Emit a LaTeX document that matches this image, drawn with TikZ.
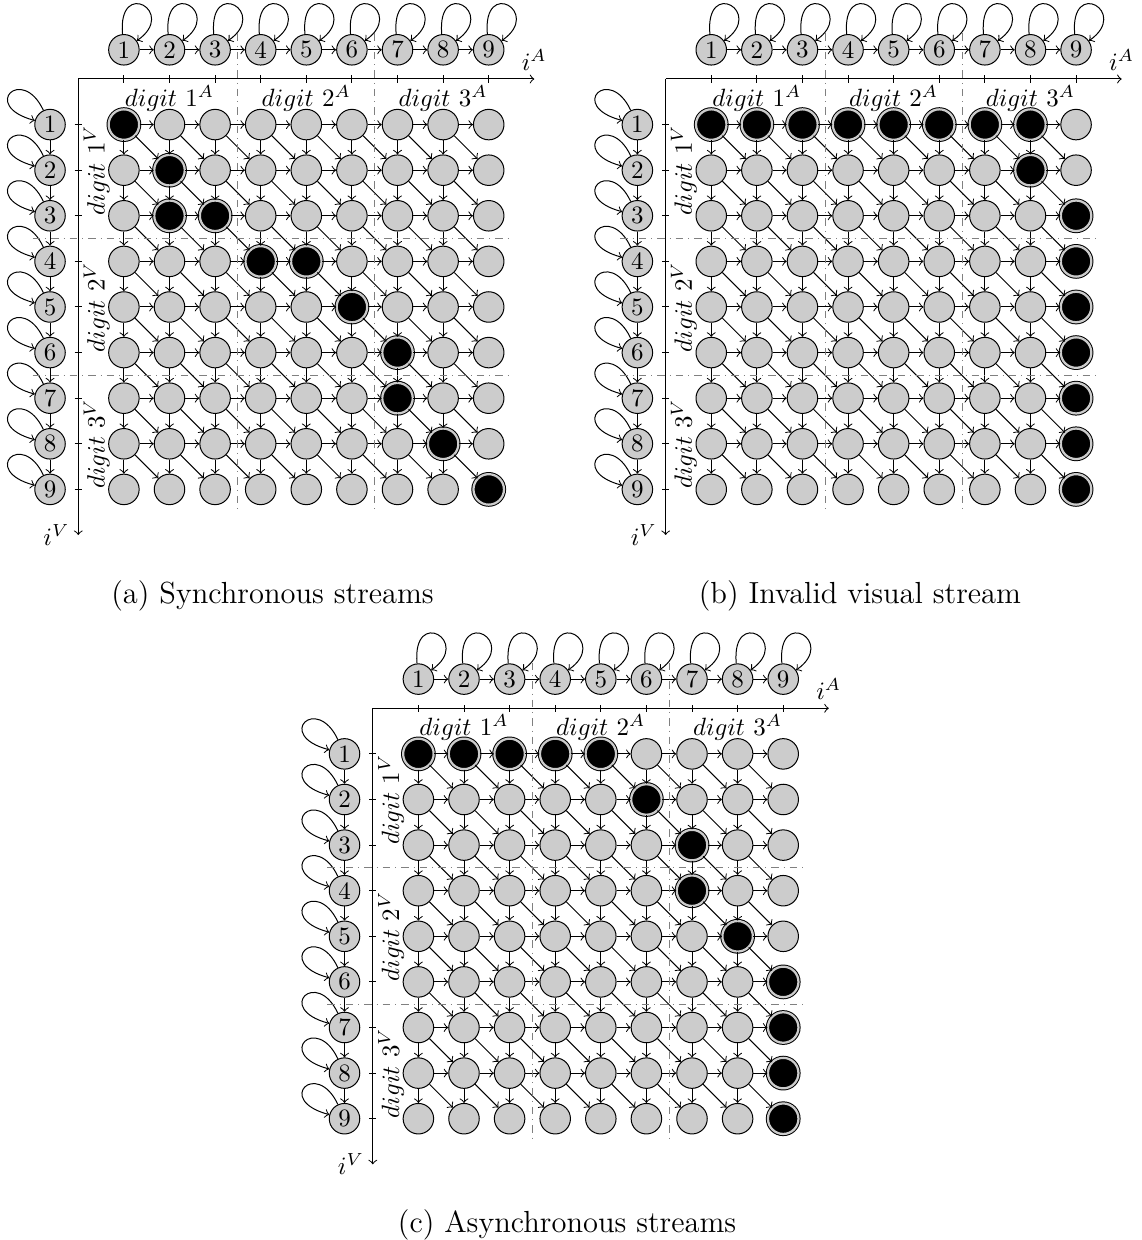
\documentclass[tikz,border=0pt]{standalone}

\tikzset{
  state/.style={circle,draw,fill=gray!40,minimum size=12.2pt,inner sep=0pt},
  hit/.style={fill=black,double=gray!40,double distance=0.9pt},
  sep/.style={gray,dash dot,thin},
}

% one panel: #1 name, #2 marked cells row/col, #3 caption
\newcommand{\streampanel}[3]{%
  \foreach \k in {1,...,9} {
    \node[state] (#1-a\k) at (\k,0.64) {\k};
    \node[state] (#1-v\k) at (-0.62,-\k) {\k};
    \draw (\k,-0.08) -- (\k,0.08) (-0.08,-\k) -- (0.08,-\k);
    \foreach \j in {1,...,9}
      \node[state] (#1-\k-\j) at (\j,-\k) {};
  }
  \foreach \i/\j in {#2}
    \node[state,hit] (#1-\i-\j) at (\j,-\i) {};
  % self loops on both chains
  \foreach \k in {1,...,9} {
    \draw[->] (#1-a\k.95) .. controls +(95:1.25) and +(35:1.1) .. (#1-a\k.35);
    \draw[->] (#1-v\k.115) .. controls +(115:1.1) and +(165:1.25) .. (#1-v\k.165);
  }
  \foreach \i [evaluate=\i as \n using int(\i+1)] in {1,...,8} {
    \draw[->] (#1-a\i) -- (#1-a\n);
    \draw[->] (#1-v\i) -- (#1-v\n);
    \foreach \j [evaluate=\j as \m using int(\j+1)] in {1,...,8} {
      \draw[->] (#1-\i-\j) -- (#1-\i-\m);
      \draw[->] (#1-\i-\j) -- (#1-\n-\j);
      \draw[->] (#1-\i-\j) -- (#1-\n-\m);
    }
  }
  \draw[->] (0,0) -- (10,0) node[above] {$i^A$};
  \draw[->] (0,0) -- (0,-10) node[left] {$i^V$};
  \draw[sep] (3.5,1) -- (3.5,-9.45) (6.5,1) -- (6.5,-9.45)
    (-1,-3.5) -- (9.45,-3.5) (-1,-6.5) -- (9.45,-6.5);
  \foreach \g/\c in {1/2,2/5,3/8} {
    \node at (\c,-0.42) {$digit\ \g^A$};
    \node[rotate=90] at (0.4,-\c) {$digit\ \g^V$};
  }
  \node at (4.26,-11.33) {\fontsize{12.2}{14}\selectfont #3};
}

\begin{document}
\begin{tikzpicture}[x=18.24pt,y=18.24pt]
\useasboundingbox (-1.717,1.732) rectangle (23.305,-25.46);

\streampanel{a}{1/1,2/2,3/2,3/3,4/4,4/5,5/6,6/7,7/7,8/8,9/9}{(a) Synchronous streams}

\begin{scope}[shift={(12.88,0)}]
\streampanel{b}{1/1,1/2,1/3,1/4,1/5,1/6,1/7,1/8,2/8,3/9,4/9,5/9,6/9,7/9,8/9,9/9}{(b) Invalid visual stream}
\end{scope}

\begin{scope}[shift={(6.458,-13.80)}]
\streampanel{c}{1/1,1/2,1/3,1/4,1/5,2/6,3/7,4/7,5/8,6/9,7/9,8/9,9/9}{(c) Asynchronous streams}
\end{scope}

\end{tikzpicture}
\end{document}
